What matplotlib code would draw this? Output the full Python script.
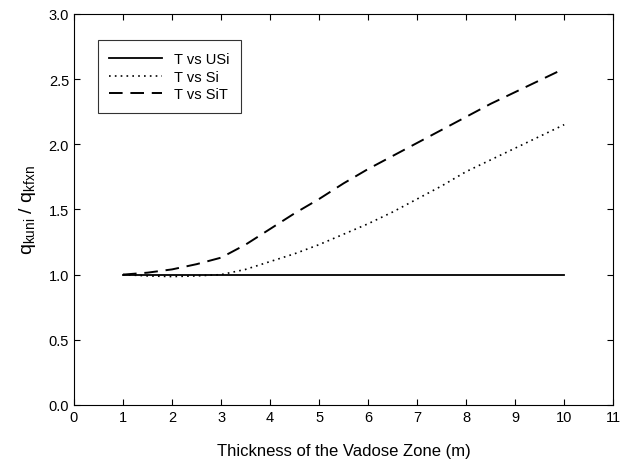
import numpy as np
import matplotlib
matplotlib.use('Agg')
import matplotlib.pyplot as plt

plt.rcParams['font.family'] = ['Liberation Sans', 'DejaVu Sans']
plt.rcParams['mathtext.fontset'] = 'custom'
plt.rcParams['mathtext.rm'] = 'Liberation Sans'
plt.rcParams['mathtext.it'] = 'Liberation Sans'

# thickness of vadose zone (m)
x = [1, 1.5, 2, 2.5, 3, 3.5, 4, 4.5, 5, 5.5, 6, 6.5, 7, 7.5, 8, 8.5, 9, 9.5, 10]
# ratios
t_usi = [1.0] * len(x)
t_si = [1.0, 0.99, 0.985, 0.99, 1.0, 1.04, 1.10, 1.16, 1.23, 1.31, 1.39, 1.48, 1.58, 1.68, 1.79, 1.88, 1.97, 2.06, 2.15]
t_sit = [1.0, 1.015, 1.04, 1.08, 1.13, 1.23, 1.35, 1.47, 1.58, 1.70, 1.81, 1.91, 2.01, 2.11, 2.21, 2.31, 2.40, 2.49, 2.58]

fig = plt.figure(figsize=(6.27, 4.64), dpi=100)
ax = fig.add_axes([0.118, 0.125, 0.86, 0.843])

ax.plot(x, t_usi, color='black', lw=1.3, ls='-', label='T vs USi')
ax.plot(x, t_si, color='black', lw=1.2, ls=(0, (1, 2.5)), label='T vs Si')
ax.plot(x, t_sit, color='black', lw=1.4, ls=(0, (7, 4)), label='T vs SiT')

ax.set_xlim(0, 11)
ax.set_ylim(0, 3)
ax.set_xticks(range(0, 12))
ax.set_yticks(np.arange(0, 3.01, 0.5))
ax.set_yticklabels(['%.1f' % v for v in np.arange(0, 3.01, 0.5)])
ax.tick_params(direction='in', top=True, right=True, labelsize=10.5, length=4)

ax.set_xlabel('Thickness of the Vadose Zone (m)', fontsize=12, labelpad=14)
ax.set_ylabel(r'$\mathregular{q_{kuni}\ /\ q_{kfxn}}$', fontsize=14, labelpad=8)

leg = ax.legend(loc='upper left', bbox_to_anchor=(0.044, 0.932), borderaxespad=0,
                fontsize=10.5, frameon=True, fancybox=False, edgecolor='black',
                handlelength=3.6, borderpad=0.8, labelspacing=0.25)
leg.get_frame().set_linewidth(0.8)

fig.savefig('out.png', dpi=100)
